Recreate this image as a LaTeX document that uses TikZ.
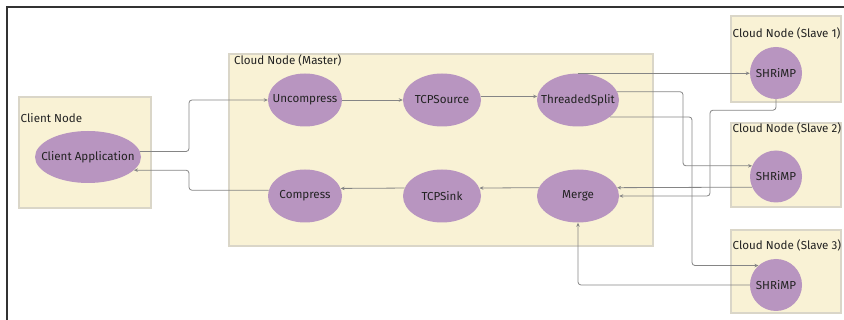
\documentclass[tikz,border=0pt]{standalone}
\usepackage{fontspec}
\setmainfont{Fira Sans}
\usetikzlibrary{arrows.meta,shapes.geometric}
\definecolor{boxfill}{HTML}{F9F2D5}
\definecolor{boxline}{HTML}{DAD6C8}
\definecolor{procfill}{HTML}{B895C0}
\definecolor{linkgray}{HTML}{858585}
\definecolor{inkgray}{HTML}{222222}

\begin{document}
\begin{tikzpicture}[x=1pt,y=-1pt,
  every node/.style={inner sep=0pt,text=inkgray,font=\fontsize{11.6}{13}\selectfont},
  box/.style={draw=boxline,fill=boxfill,line width=1.1pt},
  boxlabel/.style={anchor=west},
  proc/.style={ellipse,fill=procfill,minimum height=53},
  slave/.style={circle,fill=procfill,minimum size=52},
  link/.style={draw=linkgray,line width=0.8pt,rounded corners=3pt,-{Stealth[length=4pt,width=3.5pt]}}]
\useasboundingbox (0,0) rectangle (844,320);
\draw [black!80,line width=1.3pt] (844,7) -- (7,7) -- (7,320);
% containers
\node [box,minimum width=132,minimum height=111] (clientbox) at (85,152.5) {};
\node [box,minimum width=424,minimum height=192] (masterbox) at (441,150) {};
\node [box,minimum width=110,minimum height=86] (slavebox1) at (786,59) {};
\node [box,minimum width=110,minimum height=84] (slavebox2) at (786,165) {};
\node [box,minimum width=110,minimum height=83] (slavebox3) at (786,271.5) {};
\node [boxlabel] (clientlbl) at (20.5,118) {Client Node};
\node [boxlabel] (masterlbl) at (234,60.5) {Cloud Node (Master)};
\node [boxlabel] (slavelbl1) at (732.5,33) {Cloud Node (Slave 1)};
\node [boxlabel] (slavelbl2) at (732.5,128) {Cloud Node (Slave 2)};
\node [boxlabel] (slavelbl3) at (732.5,245.5) {Cloud Node (Slave 3)};
% processes
\node [proc,minimum width=106,minimum height=52] (client) at (88,157) {\makebox[0pt]{Client Application}};
\node [proc,minimum width=74] (uncompress) at (305,100) {\makebox[0pt]{Uncompress}};
\node [proc,minimum width=78] (tcpsource) at (442,100) {\makebox[0pt]{TCPSource}};
\node [proc,minimum width=82] (split) at (578,100) {\makebox[0pt]{ThreadedSplit}};
\node [proc,minimum width=74] (compress) at (305,196) {\makebox[0pt]{Compress}};
\node [proc,minimum width=78] (tcpsink) at (442,196) {\makebox[0pt]{TCPSink}};
\node [proc,minimum width=82] (merge) at (578,196) {\makebox[0pt]{Merge}};
\node [slave] (s1) at (776,73) {SHRiMP};
\node [slave] (s2) at (776,176.5) {SHRiMP};
\node [slave] (s3) at (776,285) {SHRiMP};
% routing columns
\coordinate (k0) at (189,0);
\coordinate (k1) at (683,0);
\coordinate (k2) at (692,0);
\coordinate (k3) at (710,0);
% connectors
\draw [link] (client.6) -| (k0 |- uncompress.west) -- (uncompress.west);
\draw [link] (compress.171) -| (k0 |- client.-16) -- (client.-16);
\draw [link] (uncompress) -- (tcpsource);
\draw [link] (tcpsource.5) -- (split.175);
\draw [link] (merge.168) -- (tcpsink.12);
\draw [link] (tcpsink.168) -- (compress.12);
\draw [link] (split.north) -- (split.north -| s1.west);
\draw [link] (split.12) -| (k1 |- s2.156) -- (s2.156);
\draw [link] (split.-28) -| (k2 |- s3.132) -- (s3.132);
\draw [link] (s1.south) -- ++(0,11) -| (k3 |- merge.east) -- (merge.east);
\draw [link] (s2.204) -- (merge.12);
\draw [link] (s3.west) -| (merge.south);
\end{tikzpicture}
\end{document}
